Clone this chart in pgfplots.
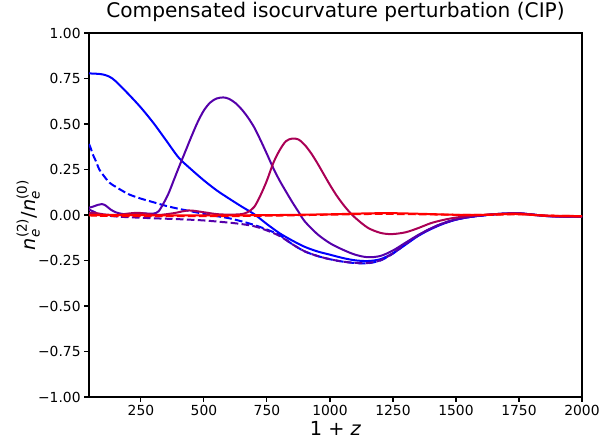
\documentclass[border=0pt]{standalone}
\usepackage{fontspec}
\setmainfont{DejaVu Sans}
\usepackage{amsmath}
\usepackage{pgfplots}
\pgfplotsset{compat=1.18}
\definecolor{cblue}{rgb}{0,0,1}
\definecolor{cpurp}{HTML}{5500AA}
\definecolor{cmag}{HTML}{AA0055}
\definecolor{cred}{rgb}{1,0,0}
\begin{document}
\begin{tikzpicture}
\begin{axis}[
  at={(0,0)}, anchor=south west,
  width=493bp, height=364bp, scale only axis,
  xmin=44, xmax=2000, ymin=-1, ymax=1,
  xtick={250,500,750,1000,1250,1500,1750,2000},
  xticklabels={250,500,750,1000,1250,1500,1750,2000},
  ytick={-1,-0.75,-0.5,-0.25,0,0.25,0.5,0.75,1},
  yticklabels={−1.00,−0.75,−0.50,−0.25,0.00,0.25,0.50,0.75,1.00},
  tick align=outside, xtick pos=bottom, ytick pos=left,
  major tick length=4.9bp,
  axis line style={line width=1.1bp},
  tick style={line width=1.1bp, black},
  tick label style={font=\fontsize{13.9}{16}\selectfont},
  title={Compensated isocurvature perturbation (CIP)},
  title style={font=\fontsize{20.2}{23}\selectfont, at={(0.5,1.0275)}, anchor=base},
  xlabel={1 + \textit{z}},
  xlabel style={font=\fontsize{19.4}{22}\selectfont, at={(0.5,-0.107)}, anchor=base},
  ylabel={\textit{n}$_{\text{\textit{e}}}^{\text{(2)}}$/\textit{n}$_{\text{\textit{e}}}^{\text{(0)}}$},
  ylabel style={font=\fontsize{19.4}{22}\selectfont, at={(-0.108,0.5)}, anchor=base},
  every axis plot/.append style={line width=2bp},
  clip=true,
]
% blue solid
\addplot[cblue, smooth] coordinates {
(44,0.778) (75,0.776) (100,0.772) (125,0.76) (150,0.735) (200,0.665) (250,0.59) (300,0.505)
(350,0.41) (400,0.315) (450,0.25) (500,0.19) (550,0.136) (600,0.09) (650,0.046) (700,0.004)
(750,-0.05) (800,-0.1) (850,-0.14) (900,-0.175) (950,-0.2) (1000,-0.218) (1050,-0.236)
(1100,-0.249) (1150,-0.253) (1200,-0.243) (1250,-0.21) (1300,-0.163) (1350,-0.115)
(1400,-0.078) (1450,-0.048) (1500,-0.026) (1550,-0.012) (1600,-0.003) (1650,0.004)
(1700,0.008) (1750,0.009) (1800,0.003) (1850,-0.004) (1900,-0.007) (2000,-0.008)};
% blue dashed
\addplot[cblue, smooth, dash pattern=on 7.7bp off 3.3bp] coordinates {
(44,0.39) (50,0.37) (60,0.33) (70,0.30) (85,0.25) (100,0.22) (125,0.178) (150,0.155)
(200,0.115) (250,0.09) (300,0.07) (350,0.05) (400,0.034) (450,0.02) (500,0.006)
(550,-0.006) (600,-0.018) (650,-0.035) (700,-0.055) (750,-0.08) (800,-0.11) (850,-0.16)
(900,-0.2) (950,-0.225) (1000,-0.243) (1050,-0.256) (1100,-0.264) (1150,-0.265)
(1200,-0.25) (1250,-0.212) (1300,-0.16) (1350,-0.113) (1400,-0.075) (1450,-0.045)
(1500,-0.025) (1550,-0.012) (1600,-0.004) (1650,0.003) (1700,0.007) (1750,0.008)
(1800,0.002) (1850,-0.005) (1900,-0.008) (2000,-0.008)};
% purple dashed
\addplot[cpurp, smooth, dash pattern=on 7.7bp off 3.3bp] coordinates {
(44,0.03) (60,0.02) (80,0.008) (100,0.0) (150,-0.008) (200,-0.012) (300,-0.018)
(400,-0.023) (500,-0.03) (600,-0.042) (650,-0.05) (700,-0.062) (750,-0.085) (800,-0.115)
(850,-0.16) (900,-0.2) (950,-0.225) (1000,-0.243) (1050,-0.256) (1100,-0.263) (1150,-0.264)
(1200,-0.249) (1250,-0.21) (1300,-0.158) (1350,-0.112) (1400,-0.074) (1450,-0.045)
(1500,-0.024) (1550,-0.011) (1600,-0.003) (1650,0.003) (1700,0.007) (1750,0.008)
(1800,0.002) (1850,-0.005) (1900,-0.008) (2000,-0.009)};
% purple solid
\addplot[cpurp, smooth] coordinates {
(44,0.04) (60,0.046) (80,0.056) (95,0.06) (110,0.052) (130,0.03) (150,0.015) (175,0.006)
(200,0.003) (225,0.006) (250,0.01) (275,0.008) (300,0.008) (320,0.02) (340,0.065)
(360,0.12) (380,0.19) (400,0.26) (425,0.345) (450,0.43) (475,0.51) (500,0.575)
(525,0.618) (550,0.64) (577,0.646) (600,0.638) (625,0.615) (650,0.58) (675,0.535)
(700,0.48) (725,0.41) (750,0.335) (775,0.258) (800,0.19) (825,0.13) (850,0.072)
(875,0.018) (900,-0.035) (950,-0.105) (1000,-0.155) (1050,-0.19) (1100,-0.218)
(1150,-0.232) (1200,-0.225) (1250,-0.195) (1300,-0.152) (1350,-0.11) (1400,-0.074)
(1450,-0.045) (1500,-0.024) (1550,-0.011) (1600,-0.003) (1650,0.004) (1700,0.008)
(1750,0.009) (1800,0.003) (1850,-0.004) (1900,-0.008) (2000,-0.009)};
% magenta solid
\addplot[cmag, smooth] coordinates {
(44,0.012) (75,0.01) (100,0.004) (150,0.0) (200,0.008) (240,0.012) (280,0.005) (320,0.0)
(380,0.01) (440,0.025) (500,0.015) (550,0.005) (600,0.002) (650,0.005) (675,0.017)
(700,0.045) (725,0.11) (750,0.19) (775,0.285) (800,0.355) (825,0.405) (850,0.42)
(875,0.415) (900,0.385) (925,0.34) (950,0.285) (975,0.225) (1000,0.165) (1025,0.11)
(1050,0.062) (1075,0.02) (1100,-0.015) (1150,-0.07) (1200,-0.098) (1245,-0.105)
(1300,-0.095) (1350,-0.072) (1400,-0.045) (1450,-0.027) (1500,-0.014) (1550,-0.006)
(1600,-0.001) (1650,0.004) (1700,0.008) (1750,0.009) (1800,0.003) (1850,-0.004)
(1900,-0.008) (2000,-0.009)};
% red dashed
\addplot[cred, smooth, dash pattern=on 7.7bp off 3.3bp] coordinates {
(44,-0.002) (100,-0.005) (300,-0.006) (600,-0.006) (800,-0.003) (1000,0.002) (1200,0.006)
(1400,0.003) (1600,0.0) (1750,0.004) (1850,-0.003) (2000,-0.006)};
% red solid
\addplot[cred, smooth] coordinates {
(44,0.0) (200,-0.001) (400,-0.002) (600,-0.002) (800,0.0) (1000,0.004) (1150,0.009)
(1250,0.01) (1400,0.005) (1500,0.001) (1600,0.001) (1700,0.005) (1750,0.005) (1850,-0.003)
(2000,-0.006)};
\end{axis}
\pgfresetboundingbox
\path (-89bp,-46bp) rectangle (514bp,397bp);
\end{tikzpicture}
\end{document}
